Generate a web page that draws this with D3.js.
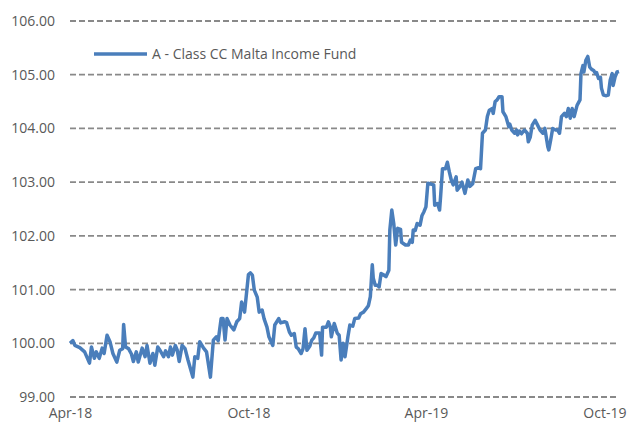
<!DOCTYPE html>
<html>
<head>
<meta charset="utf-8">
<script src="https://cdn.jsdelivr.net/npm/d3@7"></script>
<style>
  body { margin: 0; background: #fff; }
  text { font-family: "Open Sans", sans-serif; fill: #595959; }
</style>
</head>
<body>
<div id="chart"></div>
<script>
// series: days after the start date, and fund price
var startDate = "2018-04-01";
var endDate = "2019-10-16";
var seriesName = "A - Class CC Malta Income Fund";

var days = [0,3,5,10,15,20,22,25,27,30,33,35,38,41,44,48,51,54,55,57,60,63,65,68,70,74,77,79,82,85,87,90,92,96,98,101,103,105,108,110,112,115,118,121,124,
  126,128,131,133,137,140,144,147,150,152,155,157,159,161,164,168,171,174,176,179,181,183,185,187,189,192,194,197,199,202,204,208,210,214,216,220,222,225,227,230,232,234,237,239,241,243,246,248,250,252,256,258,259,263,265,
  267,268,271,274,276,278,280,282,285,287,290,292,296,298,301,304,306,308,310,311,313,315,317,319,321,324,327,328,330,332,334,336,339,340,344,347,349,351,352,354,356,359,361,363,365,367,369,373,374,377,379,
  380,382,385,387,389,391,393,396,397,400,402,405,408,410,413,416,419,421,423,426,428,430,433,434,436,438,440,443,444,447,450,451,453,456,458,459,461,463,466,469,470,
  472,474,477,479,482,485,487,490,491,493,495,498,500,502,504,507,509,511,513,515,517,520,523,524,526,527,529,531,533,535,537,539,540,542,544,545,547,550,552,554,556,557,559,561,563];

var values = [100.00,100.05,99.96,99.92,99.84,99.63,99.93,99.72,99.84,99.72,99.91,99.81,100.15,100.03,99.81,99.65,99.87,99.90,100.35,99.93,99.90,99.80,99.66,99.84,99.65,99.91,99.75,99.96,99.63,99.81,99.59,99.93,99.88,99.75,99.86,99.75,99.93,99.78,99.96,99.87,99.66,99.96,99.90,99.69,99.50,
  99.37,99.75,99.72,100.03,99.91,99.84,99.37,100.06,100.12,100.05,100.46,100.46,100.06,100.46,100.34,100.25,100.40,100.46,100.77,100.58,100.93,101.28,101.31,101.27,100.99,100.86,100.58,100.62,100.46,100.30,100.12,99.96,100.34,100.46,100.38,100.40,100.39,100.21,100.15,100.18,99.93,99.90,99.81,99.90,100.27,99.87,99.95,100.06,100.10,100.19,100.19,99.78,100.30,100.30,100.40,
  100.30,100.12,100.37,100.19,100.15,99.69,100.00,99.75,100.12,100.34,100.32,100.46,100.47,100.55,100.58,100.65,100.70,100.87,101.46,101.21,101.08,101.08,101.05,101.30,101.28,101.24,101.36,102.11,102.48,102.23,101.83,102.14,102.12,101.88,101.83,101.83,101.92,101.88,102.11,102.10,102.23,102.20,102.38,102.45,102.54,102.98,102.97,102.95,102.57,102.60,102.48,
  102.72,103.25,103.25,103.37,103.19,103.04,102.95,103.10,102.85,102.92,103.00,102.79,103.04,102.92,102.97,103.25,103.27,103.25,103.91,103.97,104.22,104.34,104.37,104.28,104.50,104.53,104.59,104.59,104.31,104.22,104.03,104.08,103.97,103.91,103.97,103.88,103.95,103.90,103.97,103.91,103.75,
  103.84,104.06,104.15,104.08,103.97,103.91,104.00,103.66,103.60,103.79,104.00,103.97,103.97,103.91,104.22,104.28,104.22,104.37,104.19,104.37,104.22,104.43,104.53,105.02,105.17,105.05,105.27,105.34,105.14,105.10,105.08,105.02,105.04,104.93,104.95,104.75,104.62,104.61,104.62,104.90,105.02,104.80,104.96,105.05,105.06];

var yTicks = [99, 100, 101, 102, 103, 104, 105, 106];
var xTicks = ["2018-04-01", "2018-10-01", "2019-04-01", "2019-10-01"];

function init() {
    var w = 627, h = 426;
    var margin = {top: 21, right: 8, bottom: 29, left: 70};
    var parse = d3.timeParse("%Y-%m-%d");
    var start = parse(startDate);

    var data = days.map(function(d, i) {
        return {date: d3.timeDay.offset(start, d), value: values[i]};
    });

    var svg = d3.select("#chart").append("svg")
        .attr("width", w)
        .attr("height", h);

    var x = d3.scaleTime()
        .domain([start, parse(endDate)])
        .range([margin.left, w - margin.right]);

    var y = d3.scaleLinear()
        .domain([99, 106])
        .range([h - margin.bottom, margin.top]);

    // dashed gridlines
    svg.append("g")
        .selectAll("line")
        .data(yTicks)
        .enter()
        .append("line")
        .attr("x1", margin.left)
        .attr("x2", w - margin.right)
        .attr("y1", function(d) { return y(d); })
        .attr("y2", function(d) { return y(d); })
        .attr("stroke", "#898989")
        .attr("stroke-width", 1.8)
        .attr("stroke-dasharray", "6,3");

    // y axis labels
    var yAxis = d3.axisLeft(y)
        .tickValues(yTicks)
        .tickFormat(d3.format(".2f"))
        .tickSize(0)
        .tickPadding(15);
    var gy = svg.append("g")
        .attr("transform", "translate(" + margin.left + ",0)")
        .call(yAxis);
    gy.select(".domain").remove();
    gy.selectAll("text").style("font-size", "14px").attr("font-family", null);

    // x axis labels
    var xAxis = d3.axisBottom(x)
        .tickValues(xTicks.map(parse))
        .tickFormat(d3.timeFormat("%b-%y"))
        .tickSize(0)
        .tickPadding(11);
    var gx = svg.append("g")
        .attr("transform", "translate(0," + (h - margin.bottom) + ")")
        .call(xAxis);
    gx.select(".domain").remove();
    gx.selectAll("text").style("font-size", "14px").attr("font-family", null);

    // the price line
    var line = d3.line()
        .x(function(d) { return x(d.date); })
        .y(function(d) { return y(d.value); });

    svg.append("path")
        .datum(data)
        .attr("d", line)
        .attr("fill", "none")
        .attr("stroke", "#4a7ebb")
        .attr("stroke-width", 3.5)
        .attr("stroke-linejoin", "round");

    // legend
    var legend = svg.append("g").attr("transform", "translate(94,54)");
    legend.append("line")
        .attr("x1", 0).attr("x2", 53)
        .attr("stroke", "#4a7ebb")
        .attr("stroke-width", 3.5);
    legend.append("text")
        .attr("x", 58)
        .attr("dy", "0.35em")
        .style("font-size", "14px")
        .text(seriesName);
}

window.onload = init;
</script>
</body>
</html>
